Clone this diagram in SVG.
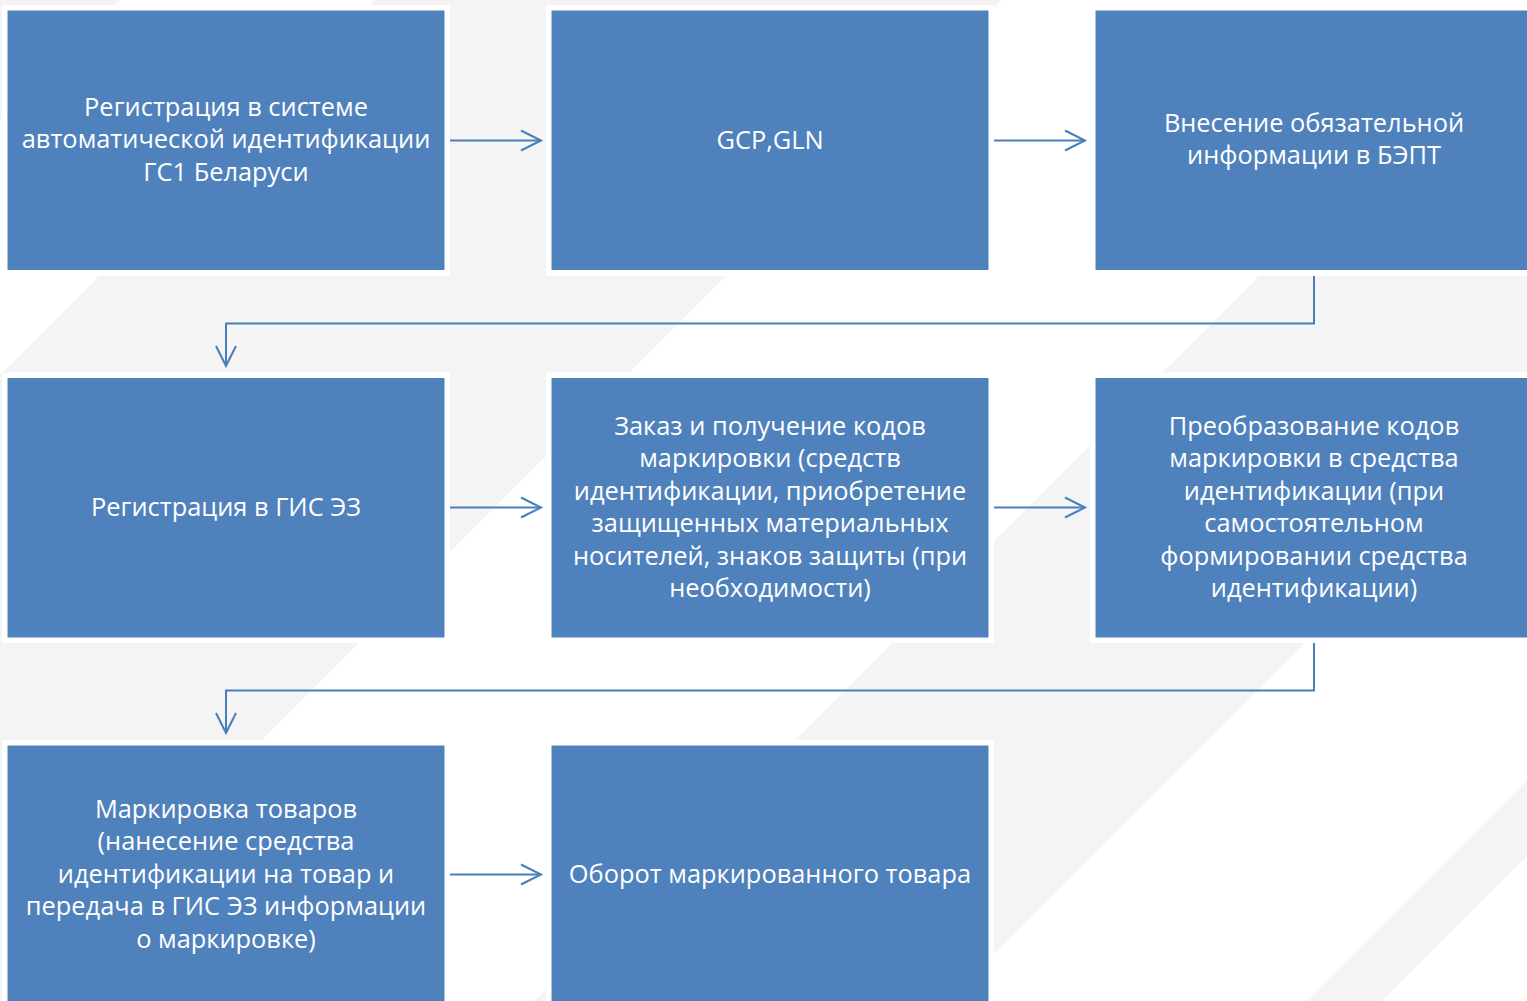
<svg xmlns="http://www.w3.org/2000/svg" width="1527" height="1001" viewBox="0 0 1527 1001">
<defs>
<style>
.bg{fill:#f4f4f4}
.halo{fill:#ffffff}
.box{fill:#4f81bd}
.t{font-family:"Open Sans","Liberation Sans",sans-serif;font-size:25.4px;fill:#ffffff;text-anchor:middle}
.c{fill:none;stroke:#4a7ebb;stroke-width:2}
</style>
<marker id="ah" markerUnits="userSpaceOnUse" markerWidth="24" markerHeight="24" refX="21" refY="12" orient="auto" viewBox="0 0 24 24">
<path d="M1,2 L21,12 L1,22" fill="none" stroke="#4a7ebb" stroke-width="2"/>
</marker>
</defs>
<g id="background">
<rect width="1527" height="1001" fill="#ffffff"/>
<polygon class="bg" points="0,0 120,0 0,120"/>
<polygon class="bg" points="375,0 1002,0 1,1001 -626,1001"/>
<polygon class="bg" points="1535,0 1948,0 947,1001 534,1001"/>
<polygon class="bg" points="2307,0 2383,0 1382,1001 1306,1001"/>
</g>
<g id="n1">
<rect class="halo" x="2" y="5" width="448" height="271" rx="3"/>
<rect class="box" x="7.5" y="10.5" width="437" height="259.5"/>
<text class="t"><tspan x="226" y="115.5">Регистрация в системе</tspan><tspan x="226" y="148">автоматической идентификации</tspan><tspan x="226" y="180.5">ГС1 Беларуси</tspan></text>
</g>
<g id="n2">
<rect class="halo" x="546" y="5" width="448" height="271" rx="3"/>
<rect class="box" x="551.5" y="10.5" width="437" height="259.5"/>
<text class="t" x="770" y="148.5">GCP,GLN</text>
</g>
<g id="n3">
<rect class="halo" x="1090" y="5" width="448" height="271" rx="3"/>
<rect class="box" x="1095.5" y="10.5" width="437" height="259.5"/>
<text class="t"><tspan x="1314" y="131.5">Внесение обязательной</tspan><tspan x="1314" y="164">информации в БЭПТ</tspan></text>
</g>
<g id="n4">
<rect class="halo" x="2" y="372.5" width="448" height="270.5" rx="3"/>
<rect class="box" x="7.5" y="378" width="437" height="259.5"/>
<text class="t" x="226" y="515.5">Регистрация в ГИС ЭЗ</text>
</g>
<g id="n5">
<rect class="halo" x="546" y="372.5" width="448" height="270.5" rx="3"/>
<rect class="box" x="551.5" y="378" width="437" height="259.5"/>
<text class="t"><tspan x="770" y="434.5">Заказ и получение кодов</tspan><tspan x="770" y="467">маркировки (средств</tspan><tspan x="770" y="499.5">идентификации, приобретение</tspan><tspan x="770" y="532">защищенных материальных</tspan><tspan x="770" y="564.5">носителей, знаков защиты (при</tspan><tspan x="770" y="597">необходимости)</tspan></text>
</g>
<g id="n6">
<rect class="halo" x="1090" y="372.5" width="448" height="270.5" rx="3"/>
<rect class="box" x="1095.5" y="378" width="437" height="259.5"/>
<text class="t"><tspan x="1314" y="434.5">Преобразование кодов</tspan><tspan x="1314" y="467">маркировки в средства</tspan><tspan x="1314" y="499.5">идентификации (при</tspan><tspan x="1314" y="532">самостоятельном</tspan><tspan x="1314" y="564.5">формировании средства</tspan><tspan x="1314" y="597">идентификации)</tspan></text>
</g>
<g id="n7">
<rect class="halo" x="2" y="740" width="448" height="271" rx="3"/>
<rect class="box" x="7.5" y="745.5" width="437" height="259.5"/>
<text class="t"><tspan x="226" y="817.5">Маркировка товаров</tspan><tspan x="226" y="850">(нанесение средства</tspan><tspan x="226" y="882.5">идентификации на товар и</tspan><tspan x="226" y="915">передача в ГИС ЭЗ информации</tspan><tspan x="226" y="947.5">о маркировке)</tspan></text>
</g>
<g id="n8">
<rect class="halo" x="546" y="740" width="448" height="271" rx="3"/>
<rect class="box" x="551.5" y="745.5" width="437" height="259.5"/>
<text class="t" x="770" y="882.5">Оборот маркированного товара</text>
</g>
<g id="connectors">
<path class="c" d="M450,140.5 H541" marker-end="url(#ah)"/>
<path class="c" d="M994,140.5 H1085" marker-end="url(#ah)"/>
<path class="c" d="M1314,276 V323.5 H226 V366" marker-end="url(#ah)"/>
<path class="c" d="M450,507.5 H541" marker-end="url(#ah)"/>
<path class="c" d="M994,507.5 H1085" marker-end="url(#ah)"/>
<path class="c" d="M1314,643 V690.5 H226 V733" marker-end="url(#ah)"/>
<path class="c" d="M450,874.5 H541" marker-end="url(#ah)"/>
</g>
</svg>
